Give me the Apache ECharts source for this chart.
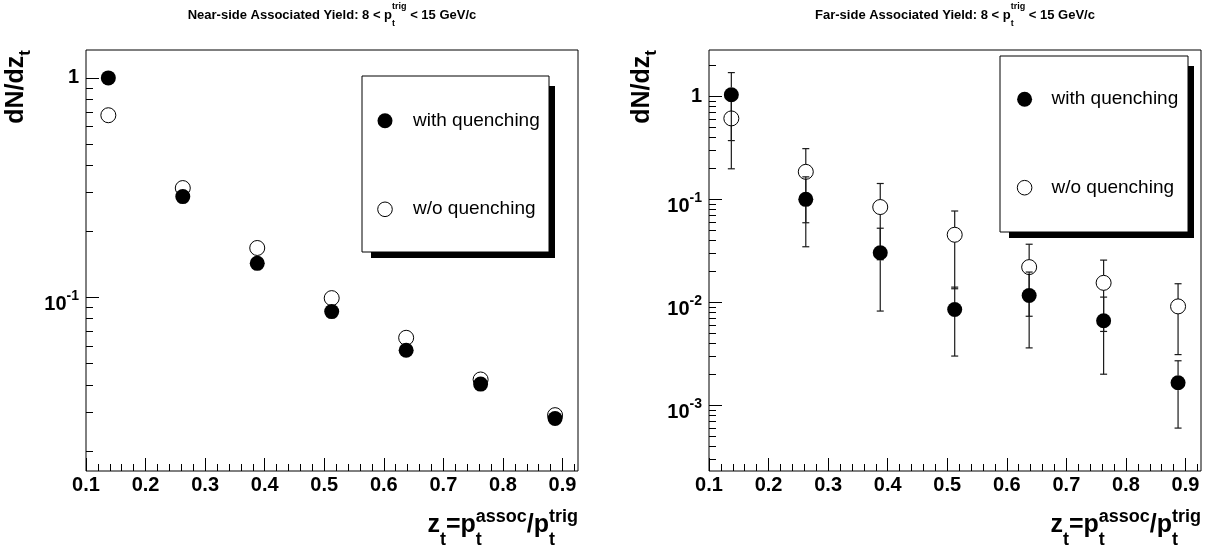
<!DOCTYPE html>
<html><head><meta charset="utf-8">
<script src="https://cdn.jsdelivr.net/npm/echarts@6/dist/echarts.min.js"></script>
<style>html,body{margin:0;padding:0;background:#fff}#c{width:1215px;height:554px}</style>
</head><body><div id="c"></div><script>
// ---------------- data ----------------
const zt = [0.1375, 0.2625, 0.3875, 0.5125, 0.6375, 0.7625, 0.8875];
const nearWith    = [1.0, 0.288, 0.143, 0.0862, 0.0575, 0.0403, 0.0281];
const nearWithout = [0.676, 0.315, 0.168, 0.0993, 0.0655, 0.0423, 0.0291];
const farWith        = [1.03, 0.0995, 0.0302, 0.0085, 0.0116, 0.0066, 0.00165];
const farWithErr     = [0.66, 0.065, 0.022, 0.0055, 0.008, 0.0046, 0.00105];
const farWithout     = [0.607, 0.184, 0.0838, 0.0451, 0.0219, 0.0154, 0.0091];
const farWithoutErr  = [0.41, 0.125, 0.058, 0.0316, 0.0146, 0.0102, 0.006];

const xMajorTicks = [0.1, 0.2, 0.3, 0.4, 0.5, 0.6, 0.7, 0.8, 0.9];
const xMinorTicks = [0.12, 0.14, 0.16, 0.18, 0.22, 0.24, 0.26, 0.28, 0.32, 0.34, 0.36, 0.38,
  0.42, 0.44, 0.46, 0.48, 0.52, 0.54, 0.56, 0.58, 0.62, 0.64, 0.66, 0.68, 0.72, 0.74, 0.76, 0.78,
  0.82, 0.84, 0.86, 0.88, 0.92];
const yMajorNear = [0.1, 1];
const yMinorNear = [0.02, 0.03, 0.04, 0.05, 0.06, 0.07, 0.08, 0.09, 0.2, 0.3, 0.4, 0.5, 0.6, 0.7, 0.8, 0.9];
const yMajorFar = [0.001, 0.01, 0.1, 1];
const yMinorFar = [0.0003, 0.0004, 0.0005, 0.0006, 0.0007, 0.0008, 0.0009,
  0.002, 0.003, 0.004, 0.005, 0.006, 0.007, 0.008, 0.009,
  0.02, 0.03, 0.04, 0.05, 0.06, 0.07, 0.08, 0.09,
  0.2, 0.3, 0.4, 0.5, 0.6, 0.7, 0.8, 0.9, 2];

const legendLabels = ['with quenching', 'w/o quenching'];

// ---------------- helpers ----------------
const FONT = '"Liberation Sans", Arial, Helvetica, sans-serif';
const mctx = document.createElement('canvas').getContext('2d');
function tw(t, size, weight) { mctx.font = (weight || 'bold') + ' ' + size + 'px ' + FONT; return mctx.measureText(t).width; }
function txt(t, x, baseY, size, weight) {
  return { type: 'text', x: x, y: baseY - 0.33 * size, silent: true,
    style: { text: t, font: (weight || 'bold') + ' ' + size + 'px ' + FONT, fill: '#000',
      textAlign: 'left', textVerticalAlign: 'middle', verticalAlign: 'middle' } };
}
// segments: {t:'..'} main text, {sup:'..', sub:'..'} stacked scripts
function latex(segs, F, f, supDy, subDy) {
  let x = 0; const els = [];
  segs.forEach(s => {
    if (s.t !== undefined) { els.push(txt(s.t, x, 0, F)); x += tw(s.t, F); }
    else {
      let w = 0;
      if (s.sup) { els.push(txt(s.sup, x, supDy, f)); w = Math.max(w, tw(s.sup, f)); }
      if (s.sub) { els.push(txt(s.sub, x, subDy, f)); w = Math.max(w, tw(s.sub, f)); }
      x += w;
    }
  });
  return { els, width: x };
}
function shiftEls(els, dx) { els.forEach(e => { e.x += dx; }); return els; }

const gridL = { left: 86, top: 50, width: 492, height: 421 };
const gridR = { left: 709, top: 50, width: 492, height: 421 };

// titles
function titleGroup(prefix, cx) {
  const r = latex([{ t: prefix + ': 8 < p' }, { sup: 'trig', sub: 't' }, { t: ' < 15 GeV/c' }], 13, 9, -11, 6);
  return { type: 'group', x: cx - r.width / 2, y: 20, children: r.els };
}
function xTitleGroup(rightX) {
  const r = latex([{ t: 'z' }, { sub: 't' }, { t: '=p' }, { sup: 'assoc', sub: 't' }, { t: '/p' }, { sup: 'trig', sub: 't' }], 25, 18, -10, 13);
  return { type: 'group', x: rightX, y: 533, children: shiftEls(r.els, -r.width) };
}
function yTitleGroup(baseX) {
  const r = latex([{ t: 'dN/dz' }, { sub: 't' }], 25, 17, -10, 7);
  return { type: 'group', x: baseX, y: 50, rotation: Math.PI / 2, children: shiftEls(r.els, -r.width) };
}
function legendGroup(bx, by, bw, bh, m1y, m2y, mx, tx) {
  return { type: 'group', children: [
    { type: 'rect', shape: { x: bx + 9, y: by + 10, width: bw - 3, height: bh - 4 }, style: { fill: '#000' }, silent: true },
    { type: 'rect', shape: { x: bx, y: by, width: bw, height: bh }, style: { fill: '#fff', stroke: '#000', lineWidth: 1 }, silent: true },
    { type: 'circle', shape: { cx: mx, cy: m1y, r: 7.5 }, style: { fill: '#000' }, silent: true },
    { type: 'circle', shape: { cx: mx, cy: m2y, r: 7.3 }, style: { fill: 'none', stroke: '#000', lineWidth: 1 }, silent: true },
    txt(legendLabels[0], tx, m1y + 6, 19, 'normal'),
    txt(legendLabels[1], tx, m2y + 6, 19, 'normal')
  ] };
}

// axes
function xAxes(gi) {
  return [
    { type: 'value', gridIndex: gi, min: 0.1, max: 0.926, position: 'bottom',
      axisLine: { show: false }, splitLine: { show: false },
      axisTick: { show: true, inside: true, length: 13, customValues: xMajorTicks, lineStyle: { color: '#000', width: 1 } },
      axisLabel: { show: true, customValues: xMajorTicks, margin: 4, color: '#000', fontFamily: FONT, fontWeight: 'bold', fontSize: 20,
        formatter: v => v.toFixed(1) } },
    { type: 'value', gridIndex: gi, min: 0.1, max: 0.926, position: 'bottom',
      axisLine: { show: false }, splitLine: { show: false }, axisLabel: { show: false },
      axisTick: { show: true, inside: true, length: 7, customValues: xMinorTicks, lineStyle: { color: '#000', width: 1 } } }
  ];
}
function yAxes(gi, mn, mx, major, minor) {
  return [
    { type: 'log', logBase: 10, gridIndex: gi, min: mn, max: mx, position: 'left',
      axisLine: { show: false }, splitLine: { show: false },
      axisTick: { show: true, inside: true, length: 13, customValues: major, lineStyle: { color: '#000', width: 1 } },
      axisLabel: { show: true, customValues: major, margin: 7, color: '#000', fontFamily: FONT, fontWeight: 'bold',
        formatter: v => { const e = Math.round(Math.log10(v)); return e === 0 ? '{one|1}' : '{b|10}{e|' + e + '}'; },
        rich: {
          one: { fontFamily: FONT, fontWeight: 'bold', fontSize: 20, color: '#000' },
          b: { fontFamily: FONT, fontWeight: 'bold', fontSize: 20, color: '#000', padding: [14, 0, 0, 0] },
          e: { fontFamily: FONT, fontWeight: 'bold', fontSize: 14, color: '#000', padding: [0, 0, 2, 0] }
        } } },
    { type: 'log', logBase: 10, gridIndex: gi, min: mn, max: mx, position: 'left',
      axisLine: { show: false }, splitLine: { show: false }, axisLabel: { show: false },
      axisTick: { show: true, inside: true, length: 7, customValues: minor, lineStyle: { color: '#000', width: 1 } } }
  ];
}

function errRender(params, api) {
  const x = api.value(0), y = api.value(1), e = api.value(2);
  const c = api.coord([x, y]), hi = api.coord([x, y + e]), lo = api.coord([x, y - e]);
  const r = 7.5, cw = 3.5, st = { stroke: '#1a1a1a', lineWidth: 1.2 };
  const ch = [];
  if (hi[1] < c[1] - r) {
    ch.push({ type: 'line', shape: { x1: c[0], y1: hi[1], x2: c[0], y2: c[1] - r }, style: st });
    ch.push({ type: 'line', shape: { x1: c[0] - cw, y1: hi[1], x2: c[0] + cw, y2: hi[1] }, style: st });
  }
  if (lo[1] > c[1] + r) {
    ch.push({ type: 'line', shape: { x1: c[0], y1: c[1] + r, x2: c[0], y2: lo[1] }, style: st });
    ch.push({ type: 'line', shape: { x1: c[0] - cw, y1: lo[1], x2: c[0] + cw, y2: lo[1] }, style: st });
  }
  return { type: 'group', children: ch };
}

const pts = arr => zt.map((x, i) => [x, arr[i]]);
const errPts = (arr, err) => zt.map((x, i) => [x, arr[i], err[i]]);
const filledStyle = { color: '#000', opacity: 1 };
const openStyle = { color: 'rgba(0,0,0,0)', borderColor: '#000', borderWidth: 1, opacity: 1 };

const chart = echarts.init(document.getElementById('c'), null, { renderer: 'canvas' });
chart.setOption({
  animation: false,
  backgroundColor: '#fff',
  grid: [
    Object.assign({ show: true, borderColor: '#000', borderWidth: 1, backgroundColor: 'transparent', containLabel: false, outerBoundsMode: 'none' }, gridL),
    Object.assign({ show: true, borderColor: '#000', borderWidth: 1, backgroundColor: 'transparent', containLabel: false, outerBoundsMode: 'none' }, gridR)
  ],
  xAxis: [].concat(xAxes(0), xAxes(1)),
  yAxis: [].concat(yAxes(0, 0.0162, 1.34, yMajorNear, yMinorNear), yAxes(1, 0.00023, 2.8, yMajorFar, yMinorFar)),
  series: [
    { type: 'scatter', xAxisIndex: 0, yAxisIndex: 0, symbol: 'circle', symbolSize: 15,
      itemStyle: openStyle, data: pts(nearWithout), silent: true, z: 3 },
    { type: 'scatter', xAxisIndex: 0, yAxisIndex: 0, symbol: 'circle', symbolSize: 15,
      itemStyle: filledStyle, data: pts(nearWith), silent: true, z: 4 },
    { type: 'custom', xAxisIndex: 2, yAxisIndex: 2, renderItem: errRender, data: errPts(farWithout, farWithoutErr), silent: true, z: 2 },
    { type: 'custom', xAxisIndex: 2, yAxisIndex: 2, renderItem: errRender, data: errPts(farWith, farWithErr), silent: true, z: 2 },
    { type: 'scatter', xAxisIndex: 2, yAxisIndex: 2, symbol: 'circle', symbolSize: 15,
      itemStyle: openStyle, data: pts(farWithout), silent: true, z: 3 },
    { type: 'scatter', xAxisIndex: 2, yAxisIndex: 2, symbol: 'circle', symbolSize: 15,
      itemStyle: filledStyle, data: pts(farWith), silent: true, z: 4 }
  ],
  graphic: [
    titleGroup('Near-side Associated Yield', 332),
    titleGroup('Far-side Associated Yield', 955),
    xTitleGroup(578), xTitleGroup(1201),
    yTitleGroup(24), yTitleGroup(650),
    legendGroup(362, 76, 187, 176, 120.7, 209.3, 385, 413),
    legendGroup(1000, 56, 188, 176, 99.3, 187.7, 1024.6, 1051.5)
  ]
});
</script></body></html>
